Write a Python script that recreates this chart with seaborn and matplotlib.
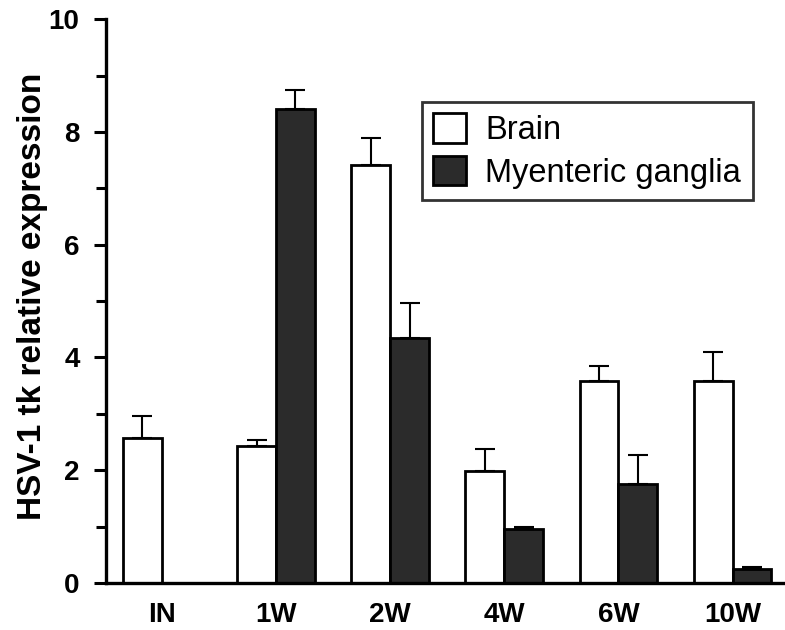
import numpy as np
import pandas as pd
import matplotlib.pyplot as plt
import seaborn as sns

# values
weeks = ['IN', '1W', '2W', '4W', '6W', '10W']
brain = [2.57, 2.43, 7.42, 1.99, 3.59, 3.59]
brain_err = [0.40, 0.11, 0.47, 0.39, 0.26, 0.50]
ganglia = [np.nan, 8.40, 4.35, 0.96, 1.76, 0.25]
ganglia_err = [np.nan, 0.34, 0.61, 0.04, 0.51, 0.03]
groups = ['Brain', 'Myenteric ganglia']

df = pd.DataFrame({
    'week': weeks * 2,
    'tissue': [groups[0]] * len(weeks) + [groups[1]] * len(weeks),
    'value': brain + ganglia,
    'err': brain_err + ganglia_err,
}).dropna()

sns.set_style('ticks')
plt.rcParams['font.family'] = ['Liberation Sans', 'DejaVu Sans']
plt.rcParams['text.color'] = 'black'
plt.rcParams['xtick.color'] = 'black'
plt.rcParams['ytick.color'] = 'black'
plt.rcParams['axes.labelcolor'] = 'black'
plt.rcParams['axes.edgecolor'] = 'black'

fig = plt.figure(figsize=(7.85, 6.3), dpi=100)
ax = fig.add_axes([0.135, 0.0746, 0.865, 0.895])

palette = {'Brain': 'white', 'Myenteric ganglia': '#2b2b2b'}
sns.barplot(data=df, x='week', y='value', hue='tissue', order=weeks,
            hue_order=groups, palette=palette, edgecolor='black',
            linewidth=2.0, width=0.68, errorbar=None, saturation=1, ax=ax)

# upper-only error bars placed on the drawn bars
for cont, g in zip(ax.containers, groups):
    sub = df[df['tissue'] == g].set_index('week').reindex(weeks).dropna()
    for bar, (wk, row) in zip(cont.patches, sub.iterrows()):
        xc = bar.get_x() + bar.get_width() / 2
        ax.errorbar(xc, row['value'], yerr=[[0], [row['err']]], fmt='none',
                    ecolor='black', elinewidth=1.5, capsize=7, capthick=1.5,
                    zorder=1)

ax.set_ylim(0, 10)
ax.set_xlim(-0.49, 5.46)
ax.set_yticks(range(0, 11, 2))
ax.set_yticks(range(1, 10, 2), minor=True)
ax.tick_params(axis='y', which='major', length=9, width=2.2, labelsize=20,
               direction='out', pad=10)
ax.tick_params(axis='y', which='minor', length=7, width=2.2, direction='out')
ax.tick_params(axis='x', length=0, labelsize=20, pad=14)
for lab in ax.get_xticklabels() + ax.get_yticklabels():
    lab.set_fontweight('bold')

ax.set_xlabel('')
ax.set_ylabel('HSV-1 tk relative expression', fontsize=24, fontweight='bold')
ax.yaxis.set_label_coords(-0.086, 0.509)
for side in ['top', 'right']:
    ax.spines[side].set_visible(False)
for side in ['left', 'bottom']:
    ax.spines[side].set_linewidth(2.4)

leg = ax.legend(loc='upper left', bbox_to_anchor=(0.465, 0.853), fontsize=23.5,
                frameon=True, fancybox=False, handlelength=1.0,
                handleheight=1.0, handletextpad=0.6, borderpad=0.35,
                labelspacing=0.3, borderaxespad=0)
leg.get_frame().set_edgecolor('black')
leg.get_frame().set_linewidth(2)
for h in leg.legend_handles:
    h.set_edgecolor('black')
    h.set_linewidth(2)

fig.savefig('out.png', dpi=100)
